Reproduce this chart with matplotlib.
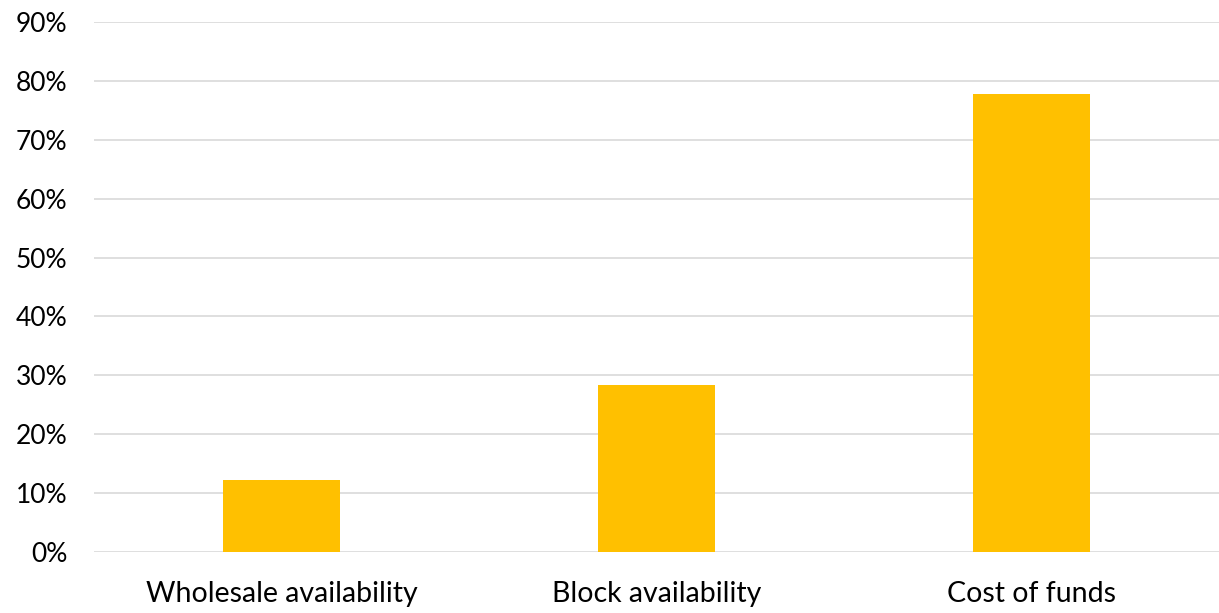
import matplotlib.pyplot as plt
from matplotlib.ticker import FuncFormatter

categories = ["Wholesale availability", "Block availability", "Cost of funds"]
values = [12.2, 28.4, 77.7]
y_ticks = [0, 10, 20, 30, 40, 50, 60, 70, 80, 90]

BAR_COLOR = "#FFC000"
GRID_COLOR = "#D9D9D9"


def plot_bars() -> None:
    """
    Plot the bar chart of the three funding constraints
    """
    plt.rcParams["font.family"] = ["Lato", "DejaVu Sans"]
    fig = plt.figure(figsize=(12.19, 6.13), dpi=100)
    ax = fig.add_axes([94 / 1219, 1 - 552 / 613, (1219 - 94) / 1219, (552 - 22) / 613])

    x = range(len(categories))
    ax.bar(x, values, width=0.31, color=BAR_COLOR, zorder=2)

    ax.set_xlim(-0.5, len(categories) - 0.5)
    ax.set_ylim(0, 90)
    ax.set_yticks(y_ticks)
    ax.yaxis.set_major_formatter(FuncFormatter(lambda v, _: f"{v:.0f}%"))
    ax.set_xticks(list(x))
    ax.set_xticklabels(categories)

    ax.grid(axis="y", color=GRID_COLOR, linewidth=1.2, zorder=0)
    ax.set_axisbelow(True)
    for spine in ax.spines.values():
        spine.set_visible(False)
    ax.tick_params(axis="both", length=0, colors="black")
    ax.tick_params(axis="y", pad=19, labelsize=19)
    ax.tick_params(axis="x", pad=21, labelsize=20.5)

    plt.savefig("out.png", dpi=100)


if __name__ == "__main__":
    plot_bars()
